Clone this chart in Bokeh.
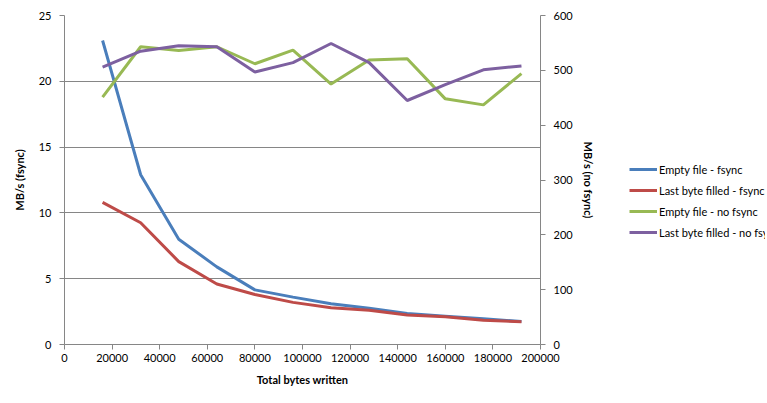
from bokeh.plotting import figure
from bokeh.layouts import row
from bokeh.models import (Range1d, LinearAxis, FixedTicker, NumeralTickFormatter,
                          Legend, LegendItem)
from bokeh.embed import file_html
from bokeh.resources import INLINE

# ---- data ----
total_bytes = [16000, 32000, 48000, 64000, 80000, 96000, 112000, 128000,
               144000, 160000, 176000, 192000]
empty_fsync = [23.1, 12.9, 8.0, 5.9, 4.15, 3.6, 3.1, 2.75, 2.35, 2.15, 1.95, 1.75]
last_fsync = [10.8, 9.25, 6.3, 4.6, 3.8, 3.2, 2.8, 2.6, 2.25, 2.1, 1.85, 1.72]
empty_nofsync = [451, 543, 536, 543, 512, 537, 475, 519, 521, 448, 437, 494]
last_nofsync = [506, 535, 545, 543, 497, 514, 549, 514, 445, 474, 501, 508]
series_labels = ["Empty file - fsync", "Last byte filled - fsync",
                 "Empty file - no fsync", "Last byte filled - no fsync"]
series_colors = ["#4A7EBB", "#BE4B48", "#98B954", "#7D60A0"]

x_ticks = [0, 20000, 40000, 60000, 80000, 100000, 120000, 140000, 160000, 180000, 200000]
left_ticks = [0, 5, 10, 15, 20, 25]
right_ticks = [0, 100, 200, 300, 400, 500, 600]

FONT = "Lato"
AXIS_COL = "#868686"
TXT = "#000000"

p = figure(frame_width=476, frame_height=329, output_backend="svg", toolbar_location=None,
           x_range=Range1d(0, 200000), y_range=Range1d(0, 25),
           min_border_left=64, min_border_top=15, min_border_bottom=43,
           min_border_right=60)
p.outline_line_color = None
p.background_fill_color = "white"
p.border_fill_color = "white"

p.extra_y_ranges = {"nofsync": Range1d(0, 600)}

# grid
p.xgrid.grid_line_color = None
p.ygrid.grid_line_color = AXIS_COL
p.ygrid.grid_line_width = 1
p.ygrid.ticker = FixedTicker(ticks=left_ticks)

def style_axis(ax):
    ax.axis_line_color = AXIS_COL
    ax.major_tick_line_color = AXIS_COL
    ax.major_tick_out = 5
    ax.major_tick_in = 0
    ax.minor_tick_line_color = None
    ax.major_label_text_font = FONT
    ax.major_label_text_font_size = "11px"
    ax.major_label_text_color = TXT
    ax.axis_label_text_font = FONT
    ax.axis_label_text_font_style = "bold"
    ax.axis_label_text_font_size = "11px"
    ax.axis_label_text_color = TXT

xa = p.xaxis[0]
xa.ticker = FixedTicker(ticks=x_ticks)
xa.formatter = NumeralTickFormatter(format="0")
xa.axis_label = "Total bytes written"
xa.major_label_standoff = 4
xa.axis_label_standoff = 8
style_axis(xa)

ya = p.yaxis[0]
ya.ticker = FixedTicker(ticks=left_ticks)
ya.axis_label = "MB/s (fsync)"
ya.major_label_standoff = 8
ya.axis_label_standoff = 10
style_axis(ya)

ra = LinearAxis(y_range_name="nofsync", ticker=FixedTicker(ticks=right_ticks),
                axis_label="MB/s (no fsync)")
ra.major_label_standoff = 8
ra.axis_label_standoff = 6
style_axis(ra)
p.add_layout(ra, "right")

series = [(empty_fsync, "default"), (last_fsync, "default"),
          (empty_nofsync, "nofsync"), (last_nofsync, "nofsync")]
for (vals, rng), col in zip(series, series_colors):
    p.line(total_bytes, vals, line_color=col, line_width=3, y_range_name=rng)

# ---- legend panel (separate figure so it is not clipped) ----
p2 = figure(width=165, height=387, output_backend="svg", toolbar_location=None,
            x_range=Range1d(0, 1), y_range=Range1d(0, 1),
            x_axis_type=None, y_axis_type=None, min_border=0)
p2.outline_line_color = None
p2.grid.grid_line_color = None
p2.background_fill_color = "white"
p2.border_fill_color = "white"

items = []
for (vals, rng), col, lab in zip(series, series_colors, series_labels):
    # legend proxies drawn outside the visible range of the legend panel
    r = p2.line(total_bytes, vals, line_color=col, line_width=3)
    items.append(LegendItem(label=lab, renderers=[r]))

legend = Legend(items=items)
legend.border_line_color = None
legend.background_fill_alpha = 0
legend.label_text_font = FONT
legend.label_text_font_size = "11px"
legend.label_text_color = TXT
legend.glyph_width = 28
legend.glyph_height = 18
legend.label_standoff = 2
legend.spacing = 3
legend.padding = 0
legend.margin = 0
legend.label_height = 18
legend.location = (29, 102)
p2.add_layout(legend, "center")

layout = row(p, p2)
open("out.html", "w").write(file_html(layout, INLINE))
